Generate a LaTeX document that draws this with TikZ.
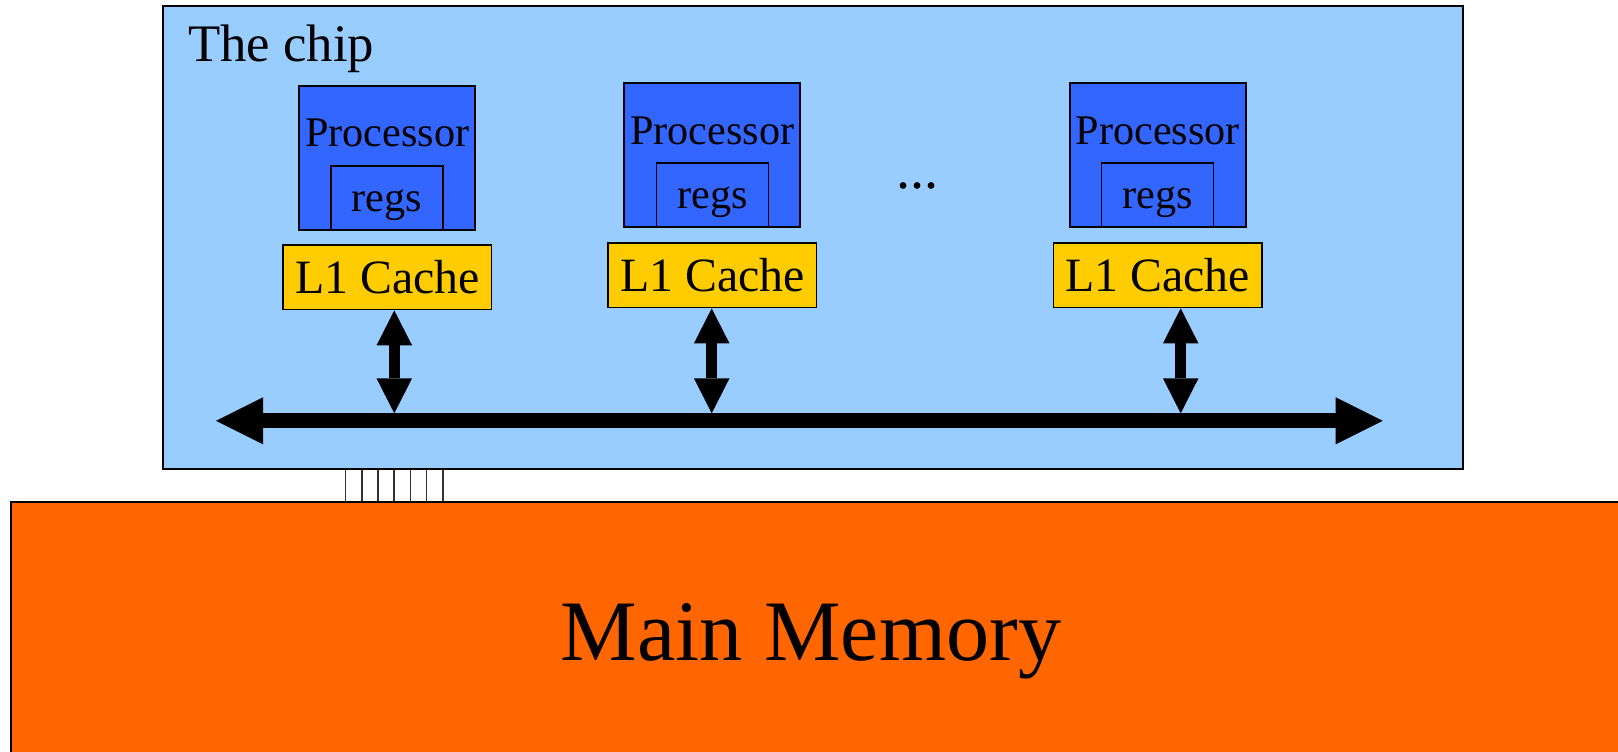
\documentclass[tikz,border=0pt]{standalone}
\usepackage{fontspec}
\setmainfont{Liberation Serif}
\usetikzlibrary{arrows.meta}
\definecolor{chipblue}{HTML}{99CCFF}
\definecolor{procblue}{HTML}{3366FF}
\definecolor{cacheyellow}{HTML}{FFCC00}
\definecolor{memorange}{HTML}{FF6600}
\begin{document}
\begin{tikzpicture}[x=0.01cm, y=-0.01cm,
  chipbox/.style={draw, line width=0.6pt, fill=chipblue, inner sep=0pt, anchor=north west},
  membox/.style={draw, line width=0.6pt, fill=memorange, inner sep=0pt, anchor=north west},
  procbox/.style={draw, line width=0.45pt, fill=procblue, inner sep=0pt, anchor=north west,
    minimum width=1.76cm, minimum height=1.44cm},
  regsbox/.style={draw, line width=0.45pt, fill=procblue, inner sep=0pt, anchor=north west,
    minimum width=1.12cm, minimum height=0.64cm},
  cachebox/.style={draw, line width=0.45pt, fill=cacheyellow, inner sep=0pt, anchor=north west,
    minimum width=2.084cm, minimum height=0.645cm},
  smalltext/.style={inner sep=0pt, anchor=base, font=\fontsize{12}{14}\selectfont},
  cachetext/.style={inner sep=0pt, anchor=base, font=\fontsize{13.6}{16}\selectfont},
  pin/.style={draw=black!80, line width=0.45pt},
  bus/.style={line width=4.25pt,
    {Triangle[length=0.47cm,width=0.47cm,line width=0pt]}-{Triangle[length=0.47cm,width=0.47cm,line width=0pt]}},
  link/.style={line width=3.1pt,
    {Triangle[length=0.35cm,width=0.356cm,line width=0pt]}-{Triangle[length=0.35cm,width=0.356cm,line width=0pt]}}
]
\useasboundingbox (0,0) rectangle (1618,752);
\clip (0,0) rectangle (1618,752);

% chip package and main memory
\node[chipbox, minimum width=12.987cm, minimum height=4.633cm] (chip) at (162.3,4.7) {};
\node[inner sep=0pt, anchor=base west, font=\fontsize{15}{18}\selectfont] (chiplabel) at (187.3,61.7) {The chip};
\node[membox, minimum width=16.5cm, minimum height=3cm] (mem) at (10,500.7) {};
\node[inner sep=0pt, anchor=base, font=\fontsize{24.5}{29}\selectfont] (memlabel) at (811,660) {Main Memory};

% pins between chip and memory
\foreach \k in {0,...,6} {
  \coordinate (pin\k) at (345.7+16.17*\k,484);
  \draw[pin] (pin\k |- chip.south) -- (pin\k |- mem.north);
}

% processors with registers and L1 caches
\foreach \i/\px/\py/\rx/\cx/\cy/\ax in {1/298.3/85/330/282.3/244.3/394.3,
                                        2/623.3/82.3/655.7/607.3/242.3/711.7,
                                        3/1069/82.3/1100.7/1052.7/242.3/1180.7} {
  \node[procbox] (p\i) at (\px,\py) {};
  \node[regsbox] (r\i) at (\rx,\py+80) {};
  \node[cachebox] (l\i) at (\cx,\cy) {};
  \node[smalltext] (pt\i) at ([yshift=-0.617cm]p\i.north) {Processor};
  \node[smalltext] (rt\i) at ([yshift=-0.465cm]r\i.north) {regs};
  \node[cachetext] (lt\i) at ([yshift=-0.495cm]l\i.north) {L1 Cache};
  \coordinate (b\i) at (\ax,413.3);
}
\node[inner sep=0pt, anchor=base, font=\fontsize{16}{18}\selectfont] (dots) at (917.7,188.5) {...};

% shared bus
\coordinate (busL) at (216,420.8);
\coordinate (busR) at (1382.7,420.8);
\draw[bus] (busL) -- (busR);
\foreach \i in {1,2,3} \draw[link] (b\i |- l\i.south) -- (b\i);
\end{tikzpicture}
\end{document}
